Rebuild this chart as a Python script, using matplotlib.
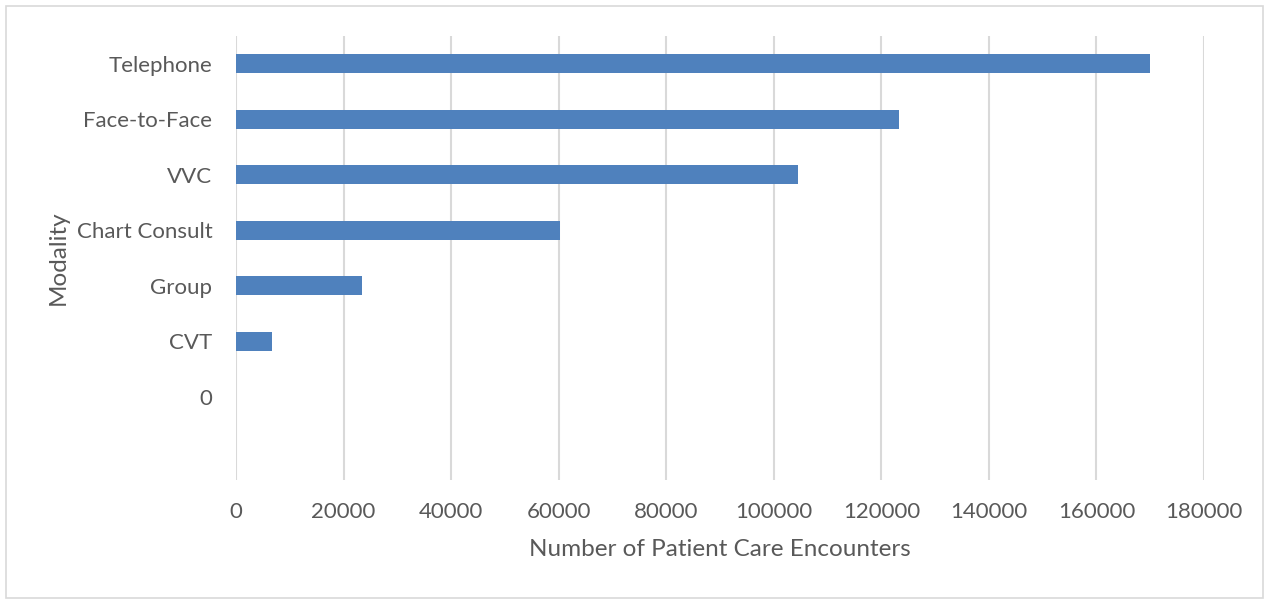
import numpy as np
import matplotlib
matplotlib.use("Agg")
import matplotlib.pyplot as plt
from matplotlib.patches import Rectangle

# Encounters by modality (top to bottom as shown)
modalities = ["Telephone", "Face-to-Face", "VVC", "Chart Consult", "Group", "CVT", "0", ""]
encounters = [170000, 123200, 104500, 60300, 23500, 6700, 0, np.nan]
x_ticks = [0, 20000, 40000, 60000, 80000, 100000, 120000, 140000, 160000, 180000]

text_color = "#595959"
grid_color = "#d9d9d9"
bar_color = "#4f81bd"

plt.rcParams["font.family"] = ["Lato", "DejaVu Sans"]

fig = plt.figure(figsize=(12.7, 5.99), dpi=100)
ax = fig.add_axes([236 / 1270, 1 - 480 / 599, (1204 - 236) / 1270, (480 - 36) / 599])

ypos = np.arange(len(modalities))
ax.barh(ypos, encounters, height=0.345, color=bar_color, linewidth=0, zorder=3)

ax.set_ylim(len(modalities) - 0.5, -0.5)
ax.set_yticks(ypos)
ax.set_yticklabels(modalities)
ax.set_xlim(0, 180000)
ax.set_xticks(x_ticks)
ax.set_xticklabels([str(t) for t in x_ticks])

ax.grid(axis="x", color=grid_color, linewidth=1.5, zorder=0)
for side in ["top", "right", "bottom", "left"]:
    ax.spines[side].set_visible(False)
ax.tick_params(axis="both", length=0, colors=text_color, labelsize=16)
ax.tick_params(axis="y", pad=17)
ax.tick_params(axis="x", pad=16)

ax.set_xlabel("Number of Patient Care Encounters", fontsize=17.5, color=text_color, labelpad=12)
ax.set_ylabel("Modality", fontsize=17.5, color=text_color, labelpad=6)

# light border around the whole chart
fig.patches.append(Rectangle((6 / 1270, 1 - 598 / 599), 1257 / 1270, 592 / 599,
                             transform=fig.transFigure, fill=False,
                             edgecolor=grid_color, linewidth=1.2))

fig.savefig("out.png", dpi=100)
